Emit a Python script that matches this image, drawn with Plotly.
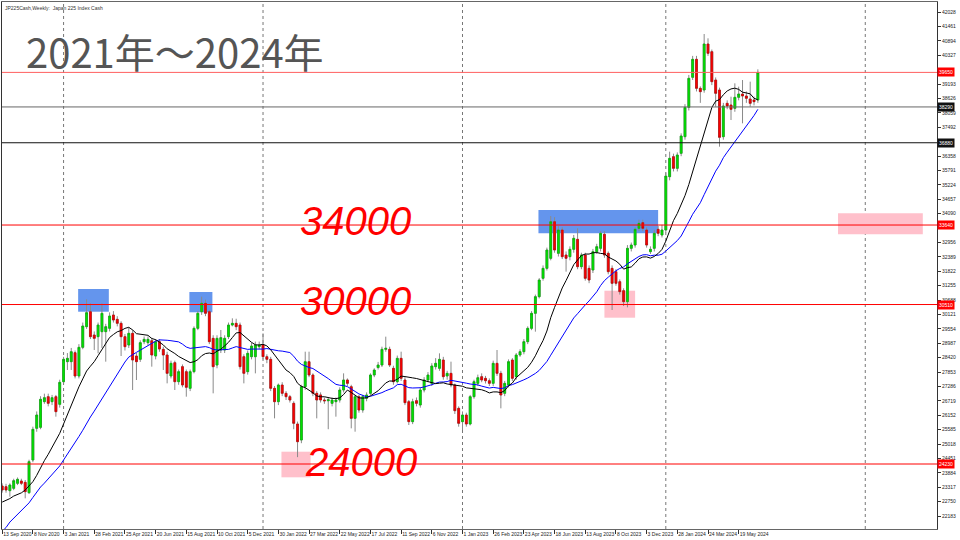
import pandas as pd
import plotly.graph_objects as go

# ---------------- data ----------------
first_week = "2020-09-13"

opens = [23364, 23338, 23180, 23272, 23469, 23561, 23508, 23101, 24388, 25635,
         25674, 26685, 26881, 26685, 26881, 26580, 27472, 28260, 28260, 28614,
         27695, 28824, 29638, 30228, 29310, 29244, 29441, 29441, 29572, 30097,
         29927, 29769, 29244, 28916, 29375, 28483, 28352, 29047, 29008, 29087,
         28483, 29047, 28745, 28522, 27695, 28220, 27472, 28063, 27866, 27210,
         27866, 29572, 30228, 30556, 30228, 29178, 28128, 28719, 28719, 29244,
         29703, 29769, 29703, 28457, 27866, 28456, 28456, 28850, 28916, 28456,
         28351, 27209, 26684, 27341, 27013, 26881, 26619, 25805, 25175, 27275,
         28259, 27734, 27013, 26950, 26750, 26720, 26619, 26684, 26750, 27144,
         27538, 27275, 26028, 26881, 26356, 26816, 27013, 27734, 28028, 28128,
         28745, 28745, 27997, 27472, 28391, 27538, 26684, 25897, 26724, 26553,
         27144, 27538, 27406, 28063, 27997, 28325, 27695, 27800, 27341, 26422,
         25897, 26160, 25805, 26881, 27406, 27669, 27603, 27511, 27406, 28194,
         27800, 27013, 27341, 28325, 27669, 28522, 28653, 29047, 29572, 30163,
         30819, 31541, 31934, 32328, 33772, 32525, 33444, 32459, 32394, 32683,
         33076, 32000, 32459, 31934, 31869, 32591, 32722, 33273, 32525, 31934,
         31803, 31409, 31055, 30622, 32722, 32853, 33509, 33733, 33444, 32591,
         32722, 33470, 33247, 33444, 35544, 36332, 35872, 36463, 37119, 38274,
         39456, 40164, 39022, 38956, 40768, 40466, 39350, 38956, 37119, 38432,
         38366, 38235, 38668, 38799, 38721, 38603, 38563, 38563]
highs = [23469, 23450, 23470, 23650, 23700, 23650, 23600, 24400, 25700, 26300,
         26900, 27000, 27000, 26950, 26950, 27550, 28450, 28600, 28800, 28700,
         28950, 29800, 30714, 30556, 29450, 29800, 30556, 29750, 30200, 30250,
         30050, 29850, 29350, 29600, 29500, 28600, 29100, 29250, 29250, 29200,
         29150, 29150, 28850, 28650, 28300, 28300, 27950, 28150, 27950, 27950,
         29650, 30250, 30819, 30700, 30300, 29300, 29300, 29507, 29300, 29800,
         29966, 29950, 29800, 28550, 28700, 29000, 29050, 29050, 29375, 28550,
         28450, 27300, 27400, 27450, 27100, 26950, 26700, 25900, 27350, 28653,
         28653, 27800, 27100, 27050, 26850, 26850, 26850, 26850, 27250, 27800,
         27600, 27350, 26950, 26950, 26950, 27050, 27800, 28000, 28250, 28850,
         29244, 28850, 28100, 28500, 28653, 27650, 26750, 26800, 26850, 27250,
         27650, 27850, 28200, 28400, 28588, 28450, 27900, 28260, 27400, 26500,
         26300, 26250, 26950, 27550, 27750, 27800, 27700, 27600, 28300, 28719,
         27900, 27500, 28350, 28400, 28600, 28750, 29150, 29650, 30250, 30900,
         31550, 32050, 32750, 33995, 33950, 33600, 33550, 32600, 32800, 33250,
         33510, 32550, 32550, 32050, 32700, 32900, 33400, 33400, 32600, 32050,
         31900, 31500, 31150, 32850, 32950, 33550, 33850, 33850, 33550, 32800,
         33450, 33600, 33650, 35700, 36529, 36450, 36500, 37250, 38400, 39550,
         40300, 40300, 39100, 41162, 40991, 40550, 39450, 39050, 38450, 38550,
         38694, 39219, 39088, 39350, 38900, 39285, 38700, 39771]
lows = [23102, 23100, 22944, 23200, 23400, 23400, 22878, 23050, 24300, 25500,
        25600, 26600, 26500, 26550, 26094, 26450, 27400, 27932, 27932, 27600,
        27600, 28750, 29550, 29150, 28719, 28588, 28800, 28260, 29450, 29800,
        29650, 28483, 28700, 28800, 27144, 27538, 28250, 28950, 28900, 28063,
        28350, 28650, 27932, 27406, 27600, 27144, 27350, 27250, 26881, 27100,
        27800, 29500, 30100, 30050, 28950, 27013, 28000, 28600, 28600, 29150,
        29650, 29500, 27950, 27406, 27750, 28350, 27800, 28750, 28350, 28200,
        27100, 26028, 26550, 26900, 26750, 26650, 25600, 24500, 25050, 27150,
        27650, 26900, 26028, 26650, 26600, 25600, 26500, 26094, 26650, 27050,
        27300, 25634, 25503, 26250, 26250, 26700, 26950, 27650, 27950, 28050,
        28650, 28050, 27350, 27400, 27500, 26550, 25766, 25800, 26500, 26450,
        27050, 27450, 27300, 27950, 27900, 27550, 27550, 27250, 26200, 25700,
        25569, 25700, 25750, 26800, 27300, 27450, 27400, 27300, 27300, 27700,
        26422, 26900, 27250, 27500, 27550, 28450, 28550, 28950, 29500, 29441,
        30750, 31450, 31850, 32250, 32550, 32400, 32300, 31803, 32250, 32550,
        31900, 31900, 31450, 31350, 31750, 32500, 32600, 32350, 31700, 30294,
        31250, 30900, 30450, 30399, 32600, 32750, 33400, 33400, 32750, 32500,
        32600, 33200, 33150, 33350, 35400, 35750, 35750, 36350, 37000, 38150,
        39350, 38900, 38450, 38850, 40300, 39150, 38300, 36725, 37000, 38200,
        37775, 38100, 38550, 37644, 38450, 38300, 38350, 38450]
closes = [23206, 23206, 23403, 23574, 23627, 23469, 23141, 24322, 25595, 26160,
          26777, 26842, 26619, 26842, 26291, 27446, 28352, 28391, 28653, 27695,
          28824, 29664, 30189, 29244, 29178, 29703, 30163, 29638, 30058, 29900,
          29769, 29244, 28850, 29375, 28325, 28260, 29008, 29139, 29139, 28522,
          29047, 28758, 28522, 27800, 28194, 27472, 27866, 27341, 27249, 27866,
          29572, 30163, 30556, 30163, 29047, 28063, 29178, 29205, 29178, 29703,
          29769, 29638, 28063, 27800, 28588, 28876, 28916, 28916, 28456, 28351,
          27209, 26684, 27341, 27013, 26881, 26750, 25831, 25109, 27275, 28259,
          27734, 27013, 26750, 26750, 26720, 26760, 26750, 26750, 27144, 27538,
          27406, 26028, 26881, 26356, 26881, 26947, 27734, 27931, 28128, 28745,
          28784, 28128, 27472, 28391, 27603, 26645, 25897, 26684, 26619, 27144,
          27538, 27734, 28089, 28194, 28351, 27669, 27800, 27341, 26330, 25831,
          26160, 25805, 26881, 27472, 27629, 27538, 27511, 27406, 28194, 27800,
          26947, 27406, 28260, 27603, 28522, 28653, 29047, 29572, 30163, 30819,
          31475, 31934, 32656, 33772, 32656, 33444, 32394, 32328, 32683, 33116,
          32000, 32459, 31541, 31475, 32591, 32788, 33313, 32459, 31803, 31344,
          31344, 31016, 30622, 32722, 32853, 33470, 33706, 33509, 32853, 32683,
          33313, 33313, 33444, 35571, 36266, 35872, 36397, 37146, 38274, 39416,
          40164, 39022, 38891, 40768, 40401, 39285, 38825, 37093, 38327, 38327,
          38196, 38668, 38799, 38721, 38629, 38432, 38498, 39650]

# weekly closes before the first visible bar (only used to warm up the moving averages)
warmup_closes = [19389, 17820, 19498, 19897, 19262, 19619, 20179, 20037, 20388, 21878,
                 22864, 22305, 22478, 22512, 22306, 22291, 22696, 22751, 21710, 22329,
                 23289, 22920, 22883, 23205, 23406]

tick_labels = ["13 Sep 2020", "8 Nov 2020", "3 Jan 2021", "28 Feb 2021", "25 Apr 2021",
               "20 Jun 2021", "15 Aug 2021", "10 Oct 2021", "5 Dec 2021", "30 Jan 2022",
               "27 Mar 2022", "22 May 2022", "17 Jul 2022", "11 Sep 2022", "6 Nov 2022",
               "1 Jan 2023", "26 Feb 2023", "23 Apr 2023", "18 Jun 2023", "13 Aug 2023",
               "8 Oct 2023", "3 Dec 2023", "28 Jan 2024", "24 Mar 2024", "19 May 2024"]
year_starts = ["2021-01-03", "2022-01-02", "2023-01-01", "2024-01-07", "2025-01-05"]

# price scale labels (those hidden under the coloured price tags are left out)
price_ticks = [42028, 41461, 40894, 40327, 39193, 38626, 38059, 37492,
               36358, 35791, 35224, 34657, 34090, 32956, 32389, 31822, 31255,
               30688, 30121, 29554, 28987, 28420, 27853, 27286, 26719, 26152, 25585,
               25018, 24451, 23884, 23317, 22750, 22183]

red_levels = [39650, 33640, 30510, 24230]
black_levels = [38290, 36880]
level_texts = ["34000", "30000", "24000"]

# ---------------- derived ----------------
start = pd.Timestamp(first_week)
dates = pd.date_range(start, periods=len(closes), freq="7D")
all_closes = pd.Series(warmup_closes + closes, dtype=float)
ma13 = all_closes.rolling(13).mean().iloc[len(warmup_closes):].tolist()
ma26 = all_closes.rolling(26).mean().iloc[len(warmup_closes):].tolist()
body_hi = [max(o, c) for o, c in zip(opens, closes)]
body_lo = [min(o, c) for o, c in zip(opens, closes)]


def wk(f):
    return start + pd.Timedelta(days=7 * f)


fig = go.Figure()

# wicks (gray)
fig.add_trace(go.Candlestick(
    x=dates, open=opens, high=highs, low=lows, close=closes,
    increasing=dict(line=dict(color="#8a8a8a", width=1), fillcolor="#8a8a8a"),
    decreasing=dict(line=dict(color="#8a8a8a", width=1), fillcolor="#8a8a8a"),
    hoverinfo="skip", showlegend=False))
# bodies
fig.add_trace(go.Candlestick(
    x=dates, open=opens, high=body_hi, low=body_lo, close=closes,
    increasing=dict(line=dict(color="#00b000", width=0.6), fillcolor="#00e600"),
    decreasing=dict(line=dict(color="#c00000", width=0.6), fillcolor="#ff0000"),
    hoverinfo="skip", showlegend=False))

fig.add_trace(go.Scatter(x=dates, y=ma26, mode="lines",
                         line=dict(color="#0000ff", width=1), hoverinfo="skip", showlegend=False))
fig.add_trace(go.Scatter(x=dates, y=ma13, mode="lines",
                         line=dict(color="#000000", width=1), hoverinfo="skip", showlegend=False))

shapes = []
# highlight boxes
for (a, b, lo, hi) in [(19.8, 27.8, 30227, 31121), (48.8, 54.8, 30204, 31003),
                       (139.8, 171.0, 33314, 34232)]:
    shapes.append(dict(type="rect", xref="x", yref="y", x0=wk(a), x1=wk(b), y0=lo, y1=hi,
                       fillcolor="#6495ed", line=dict(width=0), layer="below"))
for (a, b, lo, hi) in [(72.8, 80.4, 23706, 24715), (157.0, 165.0, 29991, 31054),
                       (217.9, 240.0, 33276, 34102)]:
    shapes.append(dict(type="rect", xref="x", yref="y", x0=wk(a), x1=wk(b), y0=lo, y1=hi,
                       fillcolor="#ffc0cb", line=dict(width=0), layer="below"))
# year separators
for d in year_starts:
    shapes.append(dict(type="line", xref="x", yref="paper", x0=d, x1=d, y0=0, y1=1,
                       line=dict(color="#777777", width=1, dash="dot"), layer="below"))
# horizontal levels
for i, lv in enumerate(red_levels):
    shapes.append(dict(type="line", xref="paper", yref="y", x0=0, x1=1, y0=lv, y1=lv,
                       line=dict(color="#ff6060" if i == 0 else "#ff0000", width=1)))
for i, lv in enumerate(black_levels):
    shapes.append(dict(type="line", xref="paper", yref="y", x0=0, x1=1, y0=lv, y1=lv,
                       line=dict(color="#666666" if i == 0 else "#111111", width=1)))

annotations = []
# price labels on the right axis
for lv in red_levels:
    annotations.append(dict(xref="paper", yref="y", x=1.0, y=lv, text=str(lv), showarrow=False,
                            xanchor="left", yanchor="middle", bgcolor="#ff0000",
                            font=dict(size=5, color="white", family="Liberation Sans"),
                            borderpad=1))
for lv in black_levels:
    annotations.append(dict(xref="paper", yref="y", x=1.0, y=lv, text=str(lv), showarrow=False,
                            xanchor="left", yanchor="middle", bgcolor="#111111",
                            font=dict(size=5, color="white", family="Liberation Sans"),
                            borderpad=1))
# big red level texts
for txt, (pos, yv) in zip(level_texts, [(77.2, 33799), (77.2, 30649), (78.5, 24309)]):
    annotations.append(dict(xref="x", yref="y", x=wk(pos), y=yv, text=txt, showarrow=False,
                            xanchor="left", yanchor="middle",
                            font=dict(size=40, color="#ff0000", family="Liberation Sans",
                                      style="italic")))
# title
annotations.append(dict(xref="paper", yref="paper", x=0.023, y=0.907, text="2021年～2024年",
                        showarrow=False, xanchor="left", yanchor="middle",
                        font=dict(size=40, color="#555555", family="Noto Sans CJK JP")))
annotations.append(dict(xref="paper", yref="paper", x=0.001, y=0.998,
                        text="JP225Cash,Weekly:  Japan 225 Index Cash",
                        showarrow=False, xanchor="left", yanchor="top",
                        font=dict(size=5, color="#333333", family="Liberation Sans")))

fig.update_layout(
    width=960, height=540,
    margin=dict(l=2, r=23, t=2, b=11, autoexpand=False),
    paper_bgcolor="white", plot_bgcolor="white",
    showlegend=False,
    shapes=shapes, annotations=annotations,
    xaxis=dict(
        range=[wk(-0.05), wk(243.7)],
        rangeslider=dict(visible=False),
        showgrid=False, zeroline=False, automargin=False,
        showline=True, linecolor="#666666", linewidth=1, mirror=True,
        tickmode="array",
        tickvals=pd.to_datetime(tick_labels, format="%d %b %Y"),
        ticktext=tick_labels, tickangle=0,
        ticks="outside", ticklen=4, tickcolor="#333333",
        ticklabelposition="outside right",
        tickfont=dict(size=5, color="#222222", family="Liberation Sans"),
    ),
    yaxis=dict(
        range=[21671, 42422],
        side="right",
        showgrid=False, zeroline=False, automargin=False,
        showline=True, linecolor="#333333", linewidth=1, mirror=True,
        tickmode="array", tickvals=price_ticks, ticktext=[str(v) for v in price_ticks],
        ticks="outside", ticklen=3, tickcolor="#333333",
        tickfont=dict(size=5, color="#222222", family="Liberation Sans"),
    ),
)

fig.write_html("out.html", config={"displayModeBar": False},
               post_script="document.body.style.margin='0px';")
